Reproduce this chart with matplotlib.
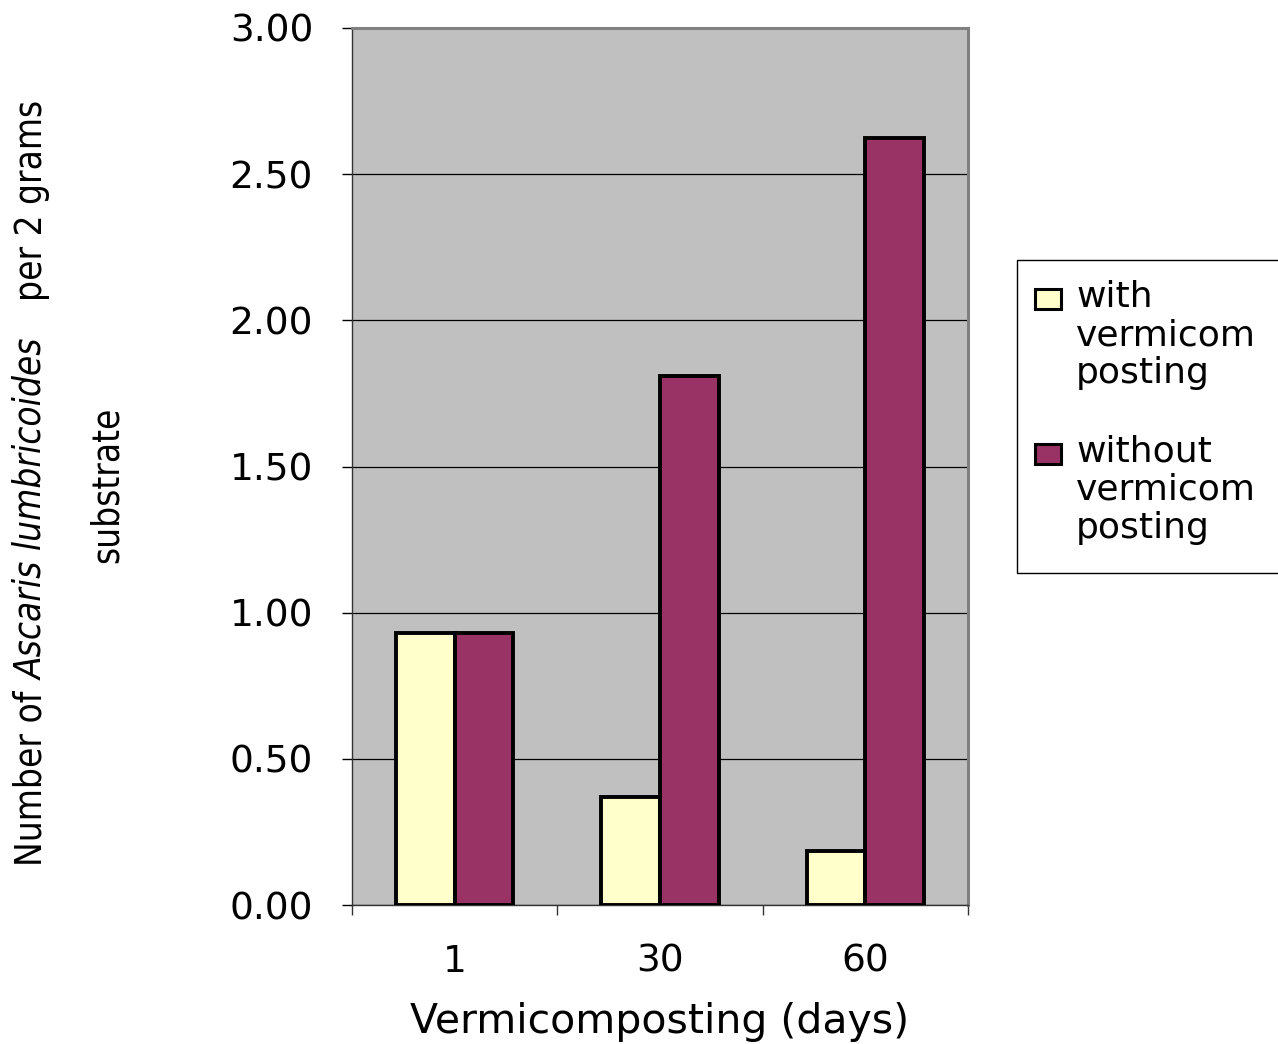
import numpy as np
import matplotlib
matplotlib.use("Agg")
import matplotlib.pyplot as plt
from matplotlib.patches import Rectangle
from matplotlib.ticker import FixedLocator, NullFormatter, FormatStrFormatter

# ── Data ──────────────────────────────────────────────────────────
days        = ["1", "30", "60"]
with_vc     = [0.93, 0.37, 0.185]
without_vc  = [0.93, 1.81, 2.625]
series_names = [["with", "vermicom", "posting"],
                ["without", "vermicom", "posting"]]

# ── Style ─────────────────────────────────────────────────────────
YELLOW  = "#FFFFCC"
MAROON  = "#993366"
PLOT_BG = "#C0C0C0"
W, H = 1278, 1044

def fx(px):
    return px / W

def fy(py):
    return 1 - py / H

fig = plt.figure(figsize=(W / 100, H / 100), dpi=100, facecolor="white")
ax = fig.add_axes([fx(352), fy(905), fx(968) - fx(352), fy(28) - fy(905)])
ax.set_facecolor(PLOT_BG)

x = np.arange(len(days))
bw = 0.285
colors = [YELLOW, MAROON]
ax.bar(x - bw / 2, with_vc, bw, color=YELLOW, edgecolor="black", linewidth=2.8, zorder=3)
ax.bar(x + bw / 2, without_vc, bw, color=MAROON, edgecolor="black", linewidth=2.8, zorder=3)

ax.set_xlim(-0.5, len(days) - 0.5)
ax.set_ylim(0, 3.0)

# y axis: 0.50 steps, outward ticks
ax.set_yticks(np.arange(0, 3.01, 0.5))
ax.yaxis.set_major_formatter(FormatStrFormatter("%.2f"))
ax.tick_params(axis="y", direction="out", length=7, width=1, pad=21,
               labelsize=27, colors="black")
ax.yaxis.grid(True, color="black", linewidth=0.9, zorder=1)
ax.set_axisbelow(True)

# x axis: labels at category centres, tick marks at category boundaries
ax.set_xticks(x)
ax.set_xticklabels(days)
ax.tick_params(axis="x", which="major", length=0, pad=28, labelsize=27)
ax.xaxis.set_minor_locator(FixedLocator(np.arange(-0.5, len(days), 1.0)))
ax.xaxis.set_minor_formatter(NullFormatter())
ax.tick_params(axis="x", which="minor", direction="out", length=7, width=1, color="#333333")

for side in ("left", "bottom"):
    ax.spines[side].set_color("#333333")
    ax.spines[side].set_linewidth(1.0)
for side in ("top", "right"):
    ax.spines[side].set_color("#808080")
    ax.spines[side].set_linewidth(2.2)

ax.set_xlabel("Vermicomposting (days)", fontsize=29.5)
ax.xaxis.set_label_coords(0.5, (905 - 1033) / 877)
ax.xaxis.label.set_verticalalignment("baseline")

# y label: first line built from pieces so the species name can be italic
renderer = fig.canvas.get_renderer()
ylab_font = dict(family="DejaVu Sans", stretch="condensed", fontsize=26.5)
pieces = [("Number of", "normal"), ("Ascaris lumbricoides", "italic"),
          ("per 2 grams", "normal")]
gaps = [11, 37]

def text_len(s, style):
    t = fig.text(0, 0, s, style=style, **ylab_font)
    ext = t.get_window_extent(renderer)
    t.remove()
    return ext.width

lengths = [text_len(s, st) for s, st in pieces]
total = sum(lengths) + sum(gaps)
y0 = 483 + total / 2          # pixel row where the text starts (reads upward)
for i, (s, st) in enumerate(pieces):
    fig.text(fx(42), fy(y0), s, style=st, rotation=90, rotation_mode="anchor",
             ha="left", va="baseline", **ylab_font)
    y0 -= lengths[i] + (gaps[i] if i < len(gaps) else 0)

fig.text(fx(118), fy(485), "substrate", rotation=90, rotation_mode="anchor",
         ha="center", va="baseline", **ylab_font)

# legend drawn by hand: swatch sits beside the first line of its label
fig.patches.append(Rectangle((fx(1017), fy(573)), fx(1300) - fx(1017), fy(260) - fy(573),
                             transform=fig.transFigure, facecolor="white",
                             edgecolor="black", linewidth=1.0))
for i, lines in enumerate(series_names):
    top = 289 + i * 155
    fig.patches.append(Rectangle((fx(1035), fy(top + 20)), fx(26), fy(0) - fy(20),
                                 transform=fig.transFigure, facecolor=colors[i],
                                 edgecolor="black", linewidth=2.2))
    for j, line in enumerate(lines):
        fig.text(fx(1076), fy(top + 18 + j * 38), line, fontsize=26,
                 ha="left", va="baseline")

fig.savefig("out.png", dpi=100, facecolor="white")
